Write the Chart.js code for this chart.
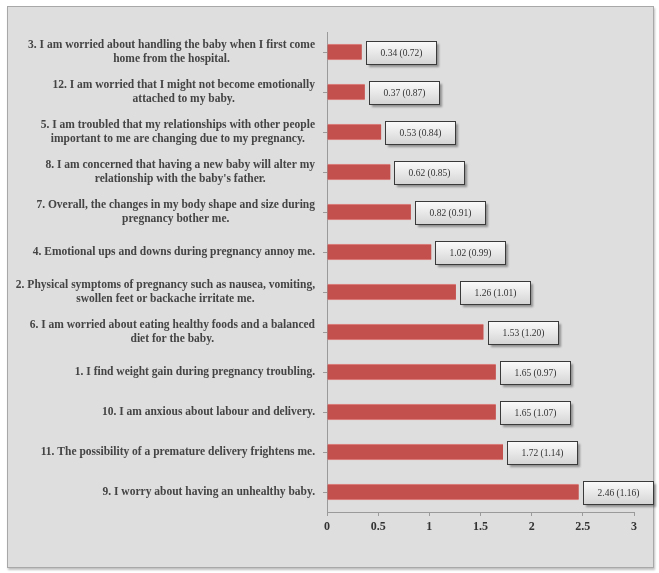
<!DOCTYPE html>
<html>
<head>
<meta charset="utf-8">
<script src="https://cdn.jsdelivr.net/npm/chart.js@4"></script>
<style>
  html, body { margin: 0; padding: 0; background: #fff; }
  #panel {
    position: absolute; left: 7px; top: 6px; width: 645px; height: 560px;
    background: #dedede; border: 1px solid #a8a8a8;
    box-shadow: 1px 2px 2px rgba(0,0,0,0.25);
  }
  #wrap { position: absolute; left: 0; top: 0; width: 659px; height: 573px; }
</style>
</head>
<body>
<div id="panel"></div>
<div id="wrap"><canvas id="chart" width="659" height="573"></canvas></div>
<script>
// items, top to bottom
const items = [
  ["3. I am worried about handling the baby when I first come", "home from the hospital."],
  ["12. I am worried that I might not become emotionally", "attached to my baby."],
  ["5. I am troubled that my relationships with other people", "important to me are changing due to my pregnancy."],
  ["8. I am concerned that having a new baby will alter my", "relationship with the baby's father."],
  ["7. Overall, the changes in my body shape and size during", "pregnancy bother me."],
  ["4. Emotional ups and downs during pregnancy annoy me."],
  ["2. Physical symptoms of pregnancy such as nausea, vomiting,", "swollen feet or backache irritate me."],
  ["6. I am worried about eating healthy foods and a balanced", "diet for the baby."],
  ["1. I find weight gain during pregnancy troubling."],
  ["10. I am anxious about labour and delivery."],
  ["11. The possibility of a premature delivery frightens me."],
  ["9. I worry about having an unhealthy baby."]
];
const means = [0.34, 0.37, 0.53, 0.62, 0.82, 1.02, 1.26, 1.53, 1.65, 1.65, 1.72, 2.46];
const sds = [0.72, 0.87, 0.84, 0.85, 0.91, 0.99, 1.01, 1.20, 0.97, 1.07, 1.14, 1.16];
const xTicks = [0, 0.5, 1, 1.5, 2, 2.5, 3];

const serif = "'Liberation Serif', 'DejaVu Serif', serif";

// category labels: block right-aligned, lines centred within the block
const itemLabels = {
  id: "itemLabels",
  afterDraw(chart) {
    const ctx = chart.ctx;
    const y = chart.scales.y;
    ctx.save();
    ctx.font = "bold 11.5px " + serif;
    ctx.fillStyle = "#444";
    ctx.textAlign = "center";
    ctx.textBaseline = "middle";
    const lh = 14;
    items.forEach((lines, i) => {
      const cy = y.getPixelForValue(i);
      const w = Math.max(...lines.map(l => ctx.measureText(l).width));
      const cx = y.right - 12 - w / 2;
      const top = cy - (lines.length - 1) * lh / 2;
      lines.forEach((l, k) => ctx.fillText(l, cx, top + k * lh));
    });
    ctx.restore();
  }
};

// boxed value labels "mean (sd)"
const valueBoxes = {
  id: "valueBoxes",
  afterDatasetsDraw(chart) {
    const ctx = chart.ctx;
    const meta = chart.getDatasetMeta(0);
    ctx.save();
    meta.data.forEach((bar, i) => {
      const bw = 70, bh = 23;
      const bx = Math.round(bar.x + 4) + 0.5;
      const by = Math.round(bar.y - bh / 2) + 0.5;
      ctx.save();
      ctx.shadowColor = "rgba(0,0,0,0.35)";
      ctx.shadowOffsetX = 2;
      ctx.shadowOffsetY = 2;
      ctx.shadowBlur = 2;
      const g = ctx.createLinearGradient(0, by, 0, by + bh);
      g.addColorStop(0, "#fbfbfb");
      g.addColorStop(1, "#d4d4d4");
      ctx.fillStyle = g;
      ctx.fillRect(bx, by, bw, bh);
      ctx.restore();
      ctx.strokeStyle = "#3a3a3a";
      ctx.lineWidth = 1;
      ctx.strokeRect(bx, by, bw, bh);
      ctx.font = "9.5px " + serif;
      ctx.fillStyle = "#333";
      ctx.textAlign = "center";
      ctx.textBaseline = "middle";
      ctx.fillText(means[i].toFixed(2) + " (" + sds[i].toFixed(2) + ")", bx + bw / 2, by + bh / 2 + 0.5);
    });
    ctx.restore();
  }
};

new Chart(document.getElementById("chart"), {
  type: "bar",
  data: {
    labels: items.map(l => l.join(" ")),
    datasets: [{
      data: means,
      backgroundColor: "#c4504d",
      borderColor: "#e08a88",
      borderWidth: { top: 1, bottom: 1, left: 0, right: 0 },
      borderSkipped: false,
      barThickness: 16
    }]
  },
  options: {
    indexAxis: "y",
    responsive: false,
    animation: false,
    layout: { padding: { top: 32, right: 25, left: 0, bottom: 0 } },
    plugins: { legend: { display: false }, tooltip: { enabled: false } },
    scales: {
      x: {
        min: 0, max: 3,
        afterBuildTicks: s => { s.ticks = xTicks.map(v => ({ value: v })); },
        afterFit: s => { s.height = 61; },
        border: { color: "#9a9a9a" },
        grid: { drawOnChartArea: false, color: "#9a9a9a", tickLength: 4 },
        ticks: {
          color: "#333",
          font: { family: serif, size: 12, weight: "bold" },
          padding: 4,
          callback: v => String(v)
        }
      },
      y: {
        afterFit: s => { s.width = 327; },
        border: { color: "#9a9a9a" },
        grid: { drawOnChartArea: false, offset: false, color: "#9a9a9a", tickLength: 4 },
        ticks: { display: false }
      }
    }
  },
  plugins: [itemLabels, valueBoxes]
});
</script>
</body>
</html>
